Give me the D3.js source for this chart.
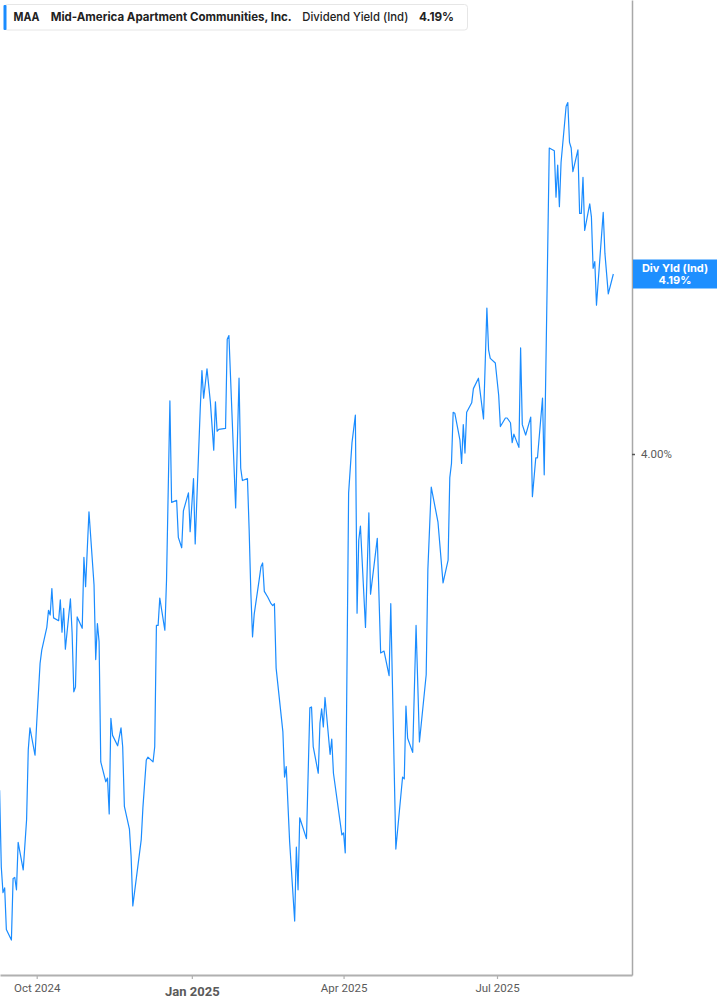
<!DOCTYPE html>
<html>
<head>
<meta charset="utf-8">
<script src="https://cdn.jsdelivr.net/npm/d3@7"></script>
<style>
  html, body { margin: 0; padding: 0; background: #ffffff; }
  svg { display: block; }
</style>
</head>
<body>
<svg id="chart" width="717" height="1005"></svg>
<script>
// ---------------- DATA ----------------
const dates = [
"2024-09-09","2024-09-10","2024-09-11","2024-09-12","2024-09-13","2024-09-16","2024-09-17","2024-09-18","2024-09-19","2024-09-20",
"2024-09-23","2024-09-25","2024-09-26","2024-09-27","2024-09-30","2024-10-01","2024-10-03","2024-10-04","2024-10-07","2024-10-08",
"2024-10-09","2024-10-10","2024-10-11","2024-10-14","2024-10-15","2024-10-16","2024-10-17","2024-10-18","2024-10-21","2024-10-22",
"2024-10-23","2024-10-24","2024-10-25","2024-10-28","2024-10-29","2024-10-30","2024-11-01","2024-11-04","2024-11-05","2024-11-06",
"2024-11-07","2024-11-08","2024-11-11","2024-11-12","2024-11-13","2024-11-14","2024-11-15","2024-11-18","2024-11-20","2024-11-21",
"2024-11-22","2024-11-25","2024-11-26","2024-11-27","2024-12-02","2024-12-03","2024-12-05","2024-12-06","2024-12-09","2024-12-10",
"2024-12-11","2024-12-12","2024-12-13","2024-12-16","2024-12-17","2024-12-19","2024-12-20","2024-12-23","2024-12-24","2024-12-26",
"2024-12-27","2024-12-30","2024-12-31","2025-01-02","2025-01-03","2025-01-06","2025-01-07","2025-01-08","2025-01-10","2025-01-12",
"2025-01-14","2025-01-15","2025-01-16","2025-01-17","2025-01-21","2025-01-22","2025-01-23","2025-01-27","2025-01-29","2025-01-30",
"2025-01-31","2025-02-03","2025-02-04","2025-02-05","2025-02-06","2025-02-07","2025-02-10","2025-02-11","2025-02-12","2025-02-13",
"2025-02-15","2025-02-17","2025-02-18","2025-02-19","2025-02-20","2025-02-24","2025-02-25","2025-02-26","2025-02-28","2025-03-03",
"2025-03-04","2025-03-05","2025-03-06","2025-03-10","2025-03-12","2025-03-13","2025-03-14","2025-03-17","2025-03-18","2025-03-19",
"2025-03-20","2025-03-21","2025-03-24","2025-03-25","2025-03-26","2025-03-31","2025-04-01","2025-04-02","2025-04-04","2025-04-06",
"2025-04-08","2025-04-09","2025-04-10","2025-04-11","2025-04-14","2025-04-16","2025-04-17","2025-04-21","2025-04-23","2025-04-25",
"2025-04-28","2025-04-29","2025-05-02","2025-05-06","2025-05-07","2025-05-08","2025-05-09","2025-05-12","2025-05-14","2025-05-16",
"2025-05-20","2025-05-21","2025-05-23","2025-05-27","2025-05-30","2025-06-02","2025-06-03","2025-06-04","2025-06-05","2025-06-06",
"2025-06-09","2025-06-10","2025-06-11","2025-06-12","2025-06-13","2025-06-16","2025-06-17","2025-06-20","2025-06-23","2025-06-25",
"2025-06-26","2025-06-27","2025-06-30","2025-07-02","2025-07-03","2025-07-06","2025-07-07","2025-07-09","2025-07-10","2025-07-11",
"2025-07-14","2025-07-15","2025-07-16","2025-07-18","2025-07-21","2025-07-22","2025-07-24","2025-07-25","2025-07-28","2025-07-29",
"2025-08-01","2025-08-04","2025-08-05","2025-08-06","2025-08-07","2025-08-08","2025-08-11","2025-08-12","2025-08-13","2025-08-14",
"2025-08-15","2025-08-18","2025-08-19","2025-08-20","2025-08-21","2025-08-22","2025-08-25","2025-08-26","2025-08-27","2025-08-28",
"2025-08-29","2025-09-02","2025-09-03","2025-09-05","2025-09-08"
];

const yieldValues = [
3.645,3.564,3.537,3.542,3.498,3.487,3.552,3.553,3.540,3.590,
3.561,3.614,3.688,3.711,3.682,3.716,3.779,3.793,3.817,3.835,
3.830,3.858,3.827,3.824,3.846,3.812,3.837,3.794,3.847,3.811,
3.749,3.754,3.828,3.816,3.891,3.860,3.939,3.862,3.783,3.821,
3.802,3.675,3.654,3.658,3.620,3.721,3.703,3.692,3.711,3.691,
3.628,3.604,3.575,3.523,3.593,3.627,3.677,3.680,3.675,3.691,
3.819,3.819,3.848,3.814,3.867,4.056,3.949,3.951,3.912,3.901,
3.940,3.959,3.918,3.974,3.905,4.048,4.088,4.059,4.090,4.055,
4.004,4.055,4.024,4.026,4.027,4.121,4.125,3.943,4.080,3.985,
3.972,3.974,3.920,3.854,3.807,3.831,3.868,3.881,3.885,3.855,
3.849,3.842,3.840,3.842,3.774,3.707,3.659,3.670,3.591,3.507,
3.585,3.540,3.616,3.594,3.732,3.733,3.691,3.663,3.716,3.731,
3.712,3.743,3.683,3.699,3.663,3.598,3.600,3.579,3.959,4.012,
4.041,3.832,3.909,3.924,3.817,3.938,3.852,3.911,3.790,3.792,
3.766,3.842,3.583,3.659,3.657,3.734,3.700,3.685,3.819,3.696,
3.767,3.878,3.965,3.928,3.864,3.888,3.975,3.990,4.044,4.043,
4.015,3.990,4.031,4.001,4.044,4.054,4.069,4.080,4.037,4.154,
4.110,4.101,4.096,4.062,4.029,4.038,4.038,4.033,4.012,4.021,
4.007,4.112,4.031,4.020,4.039,3.955,3.996,3.996,4.059,3.978,
4.323,4.320,4.271,4.305,4.261,4.308,4.367,4.371,4.329,4.323,
4.298,4.321,4.254,4.254,4.292,4.236,4.264,4.250,4.196,4.203,
4.157,4.255,4.212,4.169,4.190
];

const xTickDates = ["2024-10-01","2025-01-01","2025-04-01","2025-07-01"];
const xTickLabels = ["Oct 2024","Jan 2025","Apr 2025","Jul 2025"];
const yTickValues = [4.00];

const ticker = "MAA";
const companyName = "Mid-America Apartment Communities, Inc.";
const metricName = "Dividend Yield (Ind)";
const lastLabelTitle = "Div Yld (Ind)";

// ---------------- CHART ----------------
const parse = d3.utcParse("%Y-%m-%d");
const data = dates.map((d, i) => ({ date: parse(d), value: yieldValues[i] }));
const last = data[data.length - 1];

const plotRight = 632;
const plotBottom = 975;
const blue = "#1a8cff";

const xBase = d3.scaleUtc()
  .domain([parse("2024-10-01"), parse("2025-07-01")])
  .range([36.7, 497]);
const x = d3.scaleUtc()
  .domain([xBase.invert(0), xBase.invert(plotRight)])
  .range([0, plotRight]);

const yBase = d3.scaleLinear().domain([4.00, 4.19]).range([454, 274]);
const y = d3.scaleLinear()
  .domain([yBase.invert(plotBottom), yBase.invert(0)])
  .range([plotBottom, 0]);

const svg = d3.select("#chart");

// line
const line = d3.line().x(d => x(d.date)).y(d => y(d.value));
svg.append("path")
  .datum(data)
  .attr("fill", "none")
  .attr("stroke", blue)
  .attr("stroke-width", 1.2)
  .attr("stroke-linejoin", "round")
  .attr("d", line);

// bottom axis
const xAxis = d3.axisBottom(x)
  .tickValues(xTickDates.map(parse))
  .tickSize(4)
  .tickSizeOuter(0)
  .tickPadding(6)
  .tickFormat((d, i) => xTickLabels[i]);

const gx = svg.append("g")
  .attr("transform", `translate(0,${plotBottom})`)
  .call(xAxis);
gx.select(".domain").attr("stroke", "#b0b0b0").attr("stroke-width", 2);
gx.selectAll(".tick line").attr("stroke", "#b0b0b0").attr("stroke-width", 1.2);
gx.selectAll(".tick text")
  .attr("fill", "#5a5a5a")
  .attr("font-family", "Roboto, 'Liberation Sans', sans-serif")
  .attr("font-size", 11.5)
  .attr("dy", "0.71em")
  .each(function(d, i) {
    if (xTickLabels[i] === "Jan 2025") {
      d3.select(this).attr("font-weight", "bold").attr("font-size", 13).attr("y", 12);
    } else {
      d3.select(this).attr("y", 9);
    }
  });

// right axis
const yAxis = d3.axisRight(y)
  .tickValues(yTickValues)
  .tickSize(3)
  .tickSizeOuter(0)
  .tickPadding(6)
  .tickFormat(d => d.toFixed(2) + "%");

const gy = svg.append("g")
  .attr("transform", `translate(${plotRight},0)`)
  .call(yAxis);
gy.select(".domain").attr("stroke", "#a8a8a8").attr("stroke-width", 1.5);
gy.selectAll(".tick line").attr("stroke", "#555").attr("stroke-width", 1.5);
gy.selectAll(".tick text")
  .attr("fill", "#5a5a5a")
  .attr("font-family", "Roboto, 'Liberation Sans', sans-serif")
  .attr("font-size", 11.5);

// last value label
const ly = y(last.value);
const lab = svg.append("g");
lab.append("rect")
  .attr("x", plotRight + 1)
  .attr("y", ly - 14.5)
  .attr("width", 717 - plotRight - 1)
  .attr("height", 29)
  .attr("fill", "#1e8fff");
lab.append("text")
  .attr("x", 675)
  .attr("y", ly - 2)
  .attr("text-anchor", "middle")
  .attr("fill", "#ffffff")
  .attr("font-family", "Inter, 'Liberation Sans', sans-serif")
  .attr("font-weight", "bold")
  .attr("font-size", 11)
  .text(lastLabelTitle);
lab.append("text")
  .attr("x", 675)
  .attr("y", ly + 10)
  .attr("text-anchor", "middle")
  .attr("fill", "#ffffff")
  .attr("font-family", "Inter, 'Liberation Sans', sans-serif")
  .attr("font-weight", "bold")
  .attr("font-size", 11)
  .text(last.value.toFixed(2) + "%");

// legend
const leg = svg.append("g");
leg.append("rect")
  .attr("x", 4.5).attr("y", 4.5)
  .attr("width", 463).attr("height", 25.5)
  .attr("rx", 3)
  .attr("fill", "#ffffff")
  .attr("stroke", "#e6e6e6");
leg.append("rect")
  .attr("x", 3.5).attr("y", 5)
  .attr("width", 3).attr("height", 25)
  .attr("rx", 1)
  .attr("fill", blue);
const legText = [
  { t: ticker, x: 13.5, w: "bold", len: 26 },
  { t: companyName, x: 50.7, w: "bold", len: 241 },
  { t: metricName, x: 302.3, w: "500", len: 106 },
  { t: last.value.toFixed(2) + "%", x: 419, w: "bold", len: 35 }
];
leg.selectAll("text.leg")
  .data(legText)
  .join("text")
  .attr("class", "leg")
  .attr("x", d => d.x)
  .attr("y", 21.3)
  .attr("fill", "#222")
  .attr("font-family", "Inter, 'Liberation Sans', sans-serif")
  .attr("font-size", 12)
  .attr("font-weight", d => d.w)
  .attr("textLength", d => d.len)
  .attr("lengthAdjust", "spacingAndGlyphs")
  .text(d => d.t);
</script>
</body>
</html>
